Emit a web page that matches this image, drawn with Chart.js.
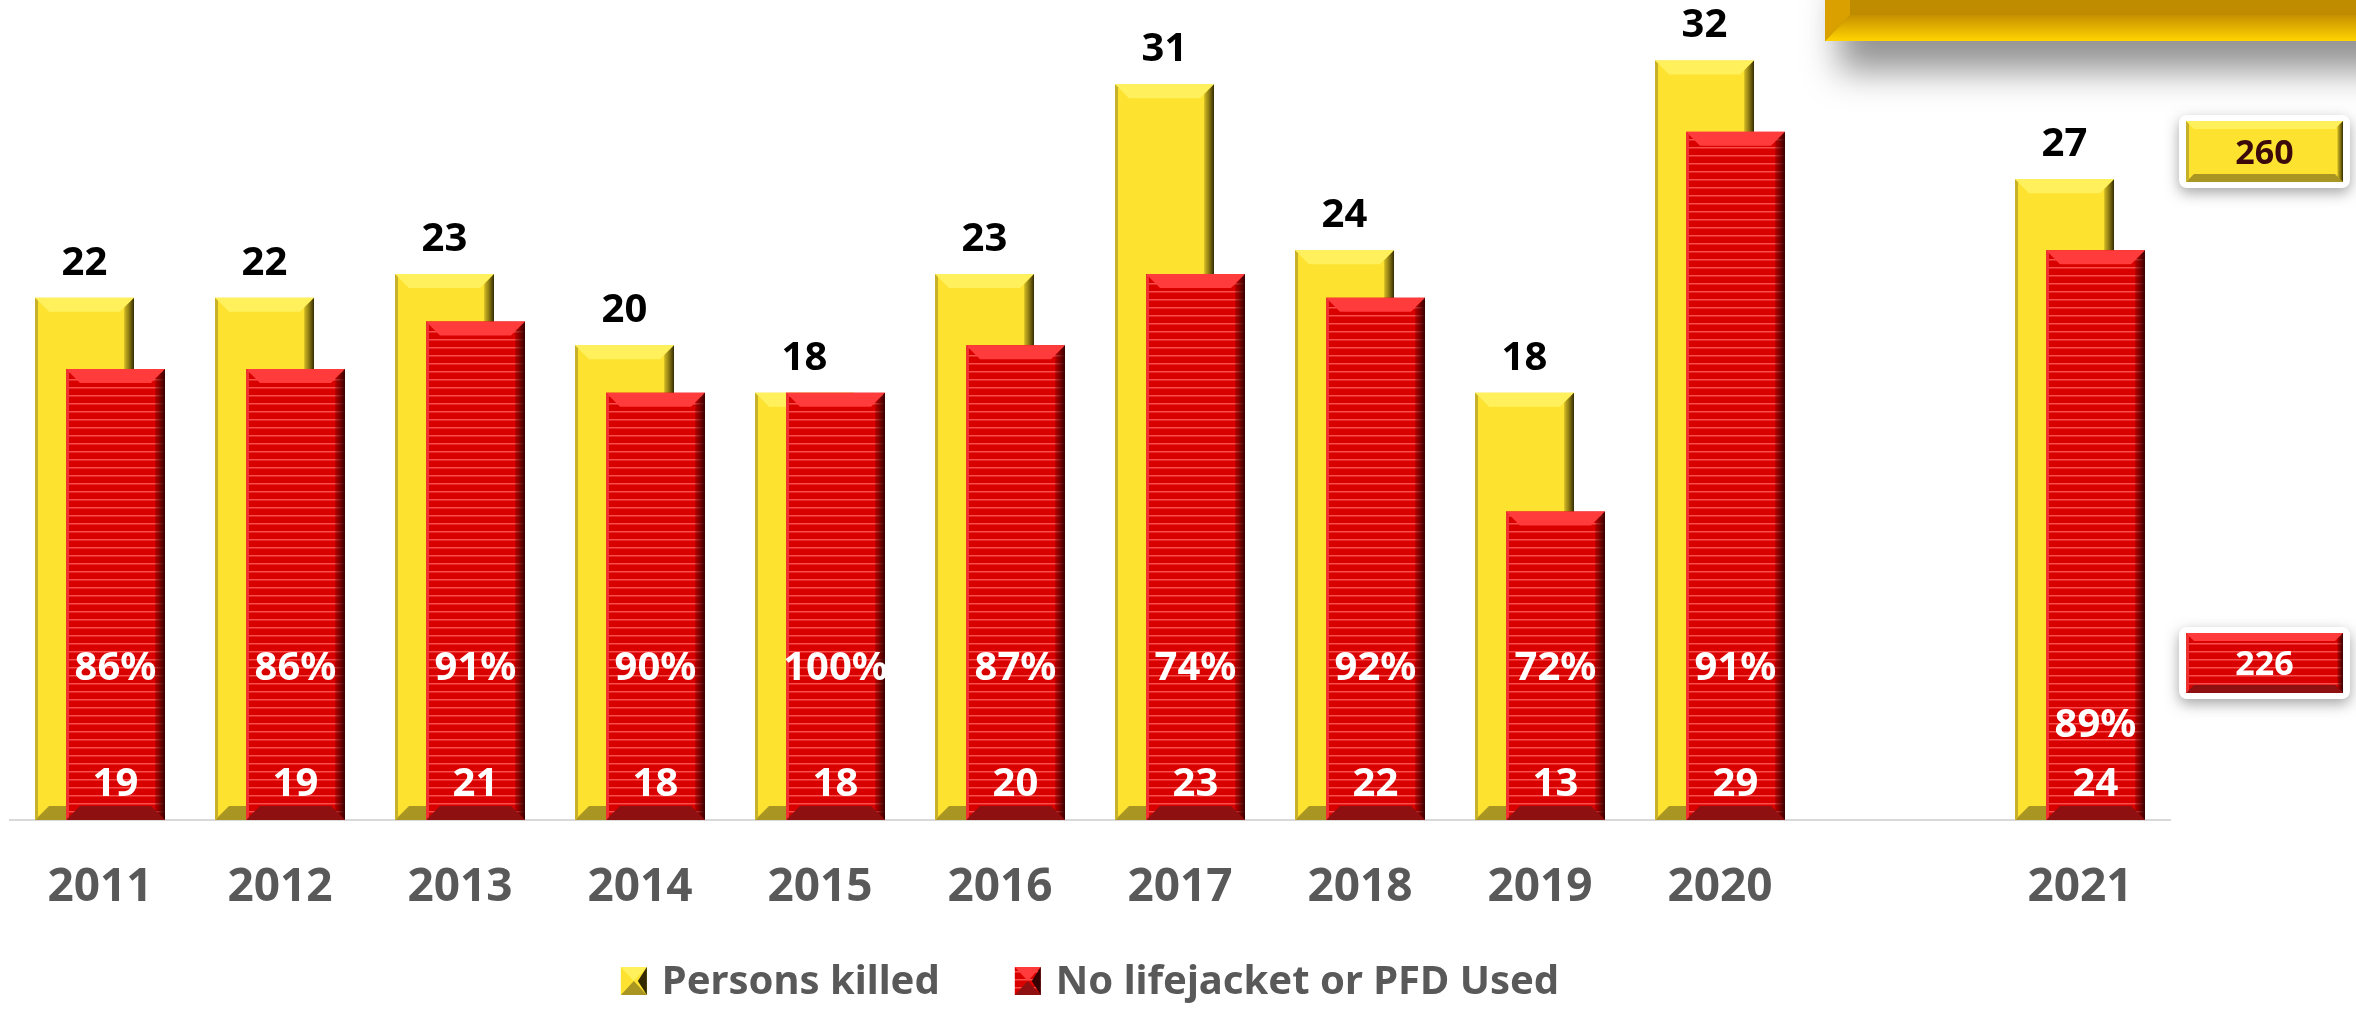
<!DOCTYPE html>
<html>
<head>
<meta charset="utf-8">
<script src="https://cdn.jsdelivr.net/npm/chart.js@4.4.0/dist/chart.umd.min.js"></script>
<style>
  body { margin: 0; background: #fff; }
  #wrap { width: 2356px; height: 1010px; }
</style>
</head>
<body>
<div id="wrap"><canvas id="pfd-chart" width="2356" height="1010"></canvas></div>
<script>
// values (blank slot between 2020 and 2021)
const years = ['2011', '2012', '2013', '2014', '2015', '2016', '2017', '2018', '2019', '2020', '', '2021'];
const personsKilled = [22, 22, 23, 20, 18, 23, 31, 24, 18, 32, null, 27];
const noLifejacket = [19, 19, 21, 18, 18, 20, 23, 22, 13, 29, null, 24];
const pctNoLifejacket = ['86%', '86%', '91%', '90%', '100%', '87%', '74%', '92%', '72%', '91%', null, '89%'];
const seriesNames = ['Persons killed', 'No lifejacket or PFD Used'];
const totals = ['260', '226'];

const FONT = '"Noto Sans", "Open Sans", sans-serif';
const YELLOW = '#fde330';
const RED = '#d90000';

let ctx = document.getElementById('pfd-chart').getContext('2d');

// striped red fill like the excel texture
function makeStripes() {
    let c = document.createElement('canvas');
    c.width = 8; c.height = 8;
    let g = c.getContext('2d');
    g.fillStyle = RED;
    g.fillRect(0, 0, 8, 8);
    g.fillStyle = 'rgba(255,90,90,0.85)';
    g.fillRect(0, 3, 8, 1.5);
    return ctx.createPattern(c, 'repeat');
}
const stripes = makeStripes();

const bevelYellow = { top: '#fff05c', bottom: '#a99522', left: '#c7b02a', edge0: 'rgba(120,100,0,0)', edge1: 'rgba(40,32,0,0.95)' };
const bevelRed = { top: '#ff3b3b', bottom: '#8e1010', left: '#ee3030', edge0: 'rgba(90,0,0,0)', edge1: 'rgba(45,0,0,0.95)' };

function poly(c, pts, fill) {
    c.fillStyle = fill;
    c.beginPath();
    c.moveTo(pts[0], pts[1]);
    for (let i = 2; i < pts.length; i += 2) c.lineTo(pts[i], pts[i + 1]);
    c.closePath();
    c.fill();
}

function bevel(c, L, T, R, B, s, b) {
    let k = Math.min(b, (R - L) / 3, (B - T) / 2);
    poly(c, [L, T, R, T, R - k, T + k, L + k, T + k], s.top);
    poly(c, [L, B, R, B, R - k, B - k, L + k, B - k], s.bottom);
    let g = c.createLinearGradient(R - k, 0, R, 0);
    g.addColorStop(0, s.edge0);
    g.addColorStop(1, s.edge1);
    poly(c, [R, T, R, B, R - k * 0.7, B - k * 0.7, R - k * 0.7, T + k * 0.7], g);
    poly(c, [L, T, L + 3, T + 3, L + 3, B - 3, L, B], s.left);
}

// yellow first, red over it, each with its bevel
const bevelBars = {
    id: 'bevelBars',
    beforeDatasetsDraw(chart) {
        let c = chart.ctx;
        [bevelYellow, bevelRed].forEach((style, i) => {
            let meta = chart.getDatasetMeta(i);
            meta.controller.draw();
            meta.data.forEach((bar, j) => {
                if (chart.data.datasets[i].data[j] == null) return;
                let p = bar.getProps(['x', 'y', 'base', 'width']);
                bevel(c, p.x - p.width / 2, p.y, p.x + p.width / 2, p.base, style, 14);
            });
        });
        return false;
    }
};

function totalBox(c, x, y, w, h, fill, style, text, color) {
    c.save();
    c.shadowColor = 'rgba(0,0,0,0.35)';
    c.shadowBlur = 14;
    c.shadowOffsetY = 5;
    c.fillStyle = '#fff';
    c.beginPath();
    c.roundRect(x - 7, y - 6, w + 14, h + 12, 8);
    c.fill();
    c.restore();
    c.fillStyle = fill;
    c.fillRect(x, y, w, h);
    bevel(c, x, y, x + w, y + h, style, 8);
    c.fillStyle = color;
    c.font = 'bold 34px ' + FONT;
    c.textAlign = 'center';
    c.textBaseline = 'alphabetic';
    c.fillText(text, x + w / 2, y + h / 2 + 12);
}

function legendIcon(c, x, y, w, h, fill, style) {
    c.fillStyle = fill;
    c.fillRect(x, y, w, h);
    let m = w / 2;
    poly(c, [x, y, x + w, y, x + m, y + h / 2], style.top);
    poly(c, [x, y + h, x + w, y + h, x + m, y + h / 2], style.bottom);
    poly(c, [x + w, y, x + w, y + h, x + m + 4, y + h / 2], style.edge1);
}

const labelsAndExtras = {
    id: 'labelsAndExtras',
    afterDraw(chart) {
        let c = chart.ctx;
        let area = chart.chartArea;
        let y = chart.scales.y;
        let yellowBars = chart.getDatasetMeta(0).data;
        let redBars = chart.getDatasetMeta(1).data;
        c.save();
        c.textAlign = 'center';
        c.textBaseline = 'alphabetic';
        c.font = 'bold 40px ' + FONT;
        years.forEach((yr, i) => {
            if (personsKilled[i] == null) return;
            c.fillStyle = '#000';
            c.fillText(String(personsKilled[i]), yellowBars[i].x, yellowBars[i].y - 23);
            c.fillStyle = '#fff';
            let pctLevel = i === years.length - 1 ? 4.1 : 6.5;
            c.fillText(pctNoLifejacket[i], redBars[i].x, y.getPixelForValue(pctLevel) + 14);
            c.fillText(String(noLifejacket[i]), redBars[i].x, y.getPixelForValue(1.6) + 14);
        });

        // legend
        c.font = 'bold 40px ' + FONT;
        let w1 = c.measureText(seriesNames[0]).width;
        let w2 = c.measureText(seriesNames[1]).width;
        let total = 26 + 15 + w1 + 75 + 26 + 15 + w2;
        let lx = (area.left + area.right) / 2 - total / 2;
        let ly = 967;
        legendIcon(c, lx, ly, 26, 28, YELLOW, bevelYellow);
        c.fillStyle = '#595959';
        c.textAlign = 'left';
        c.fillText(seriesNames[0], lx + 41, ly + 27);
        let lx2 = lx + 41 + w1 + 75;
        legendIcon(c, lx2, ly, 26, 28, stripes, bevelRed);
        c.fillStyle = '#595959';
        c.fillText(seriesNames[1], lx2 + 41, ly + 27);

        // total boxes on the right
        totalBox(c, area.right + 16, area.top + 108, 157, 61, YELLOW, bevelYellow, totals[0], '#3b0a0a');
        totalBox(c, area.right + 16, area.bottom - 187, 157, 60, stripes, bevelRed, totals[1], '#fff');

        // clipped gold title box at the top right
        let bx = chart.width - 531;
        c.save();
        c.shadowColor = 'rgba(0,0,0,0.42)';
        c.shadowBlur = 34;
        c.shadowOffsetX = 14;
        c.shadowOffsetY = 30;
        c.fillStyle = '#bf8c00';
        c.fillRect(bx, -40, 640, 81);
        c.restore();
        let g = c.createLinearGradient(0, 15, 0, 41);
        g.addColorStop(0, '#c69000');
        g.addColorStop(1, '#ffd400');
        poly(c, [bx, 41, bx + 25, 15, chart.width + 10, 15, chart.width + 10, 41], g);
        poly(c, [bx, 0, bx + 25, 0, bx + 25, 15, bx, 41], '#d9a000');
        c.restore();
    }
};

new Chart(ctx, {
    type: 'bar',
    data: {
        labels: years,
        datasets: [
            {
                label: seriesNames[0],
                data: personsKilled,
                backgroundColor: YELLOW,
                borderWidth: 0,
                categoryPercentage: 62 / 180,
                barPercentage: 99 / 31
            },
            {
                label: seriesNames[1],
                data: noLifejacket,
                backgroundColor: stripes,
                borderWidth: 0,
                categoryPercentage: 62 / 180,
                barPercentage: 99 / 31
            }
        ]
    },
    options: {
        responsive: false,
        animation: false,
        layout: { padding: { left: 10, right: 186, top: 13, bottom: 0 } },
        plugins: {
            legend: { display: false },
            tooltip: { enabled: false }
        },
        scales: {
            x: {
                grid: { display: false, drawTicks: false },
                border: { display: true, color: '#d9d9d9', width: 2 },
                ticks: {
                    color: '#595959',
                    font: { family: FONT, size: 46, weight: 'bold' },
                    padding: 40
                },
                afterFit: function (scale) { scale.height = 190; }
            },
            y: { display: false, min: 0, max: 34 }
        }
    },
    plugins: [bevelBars, labelsAndExtras]
});
</script>
</body>
</html>
